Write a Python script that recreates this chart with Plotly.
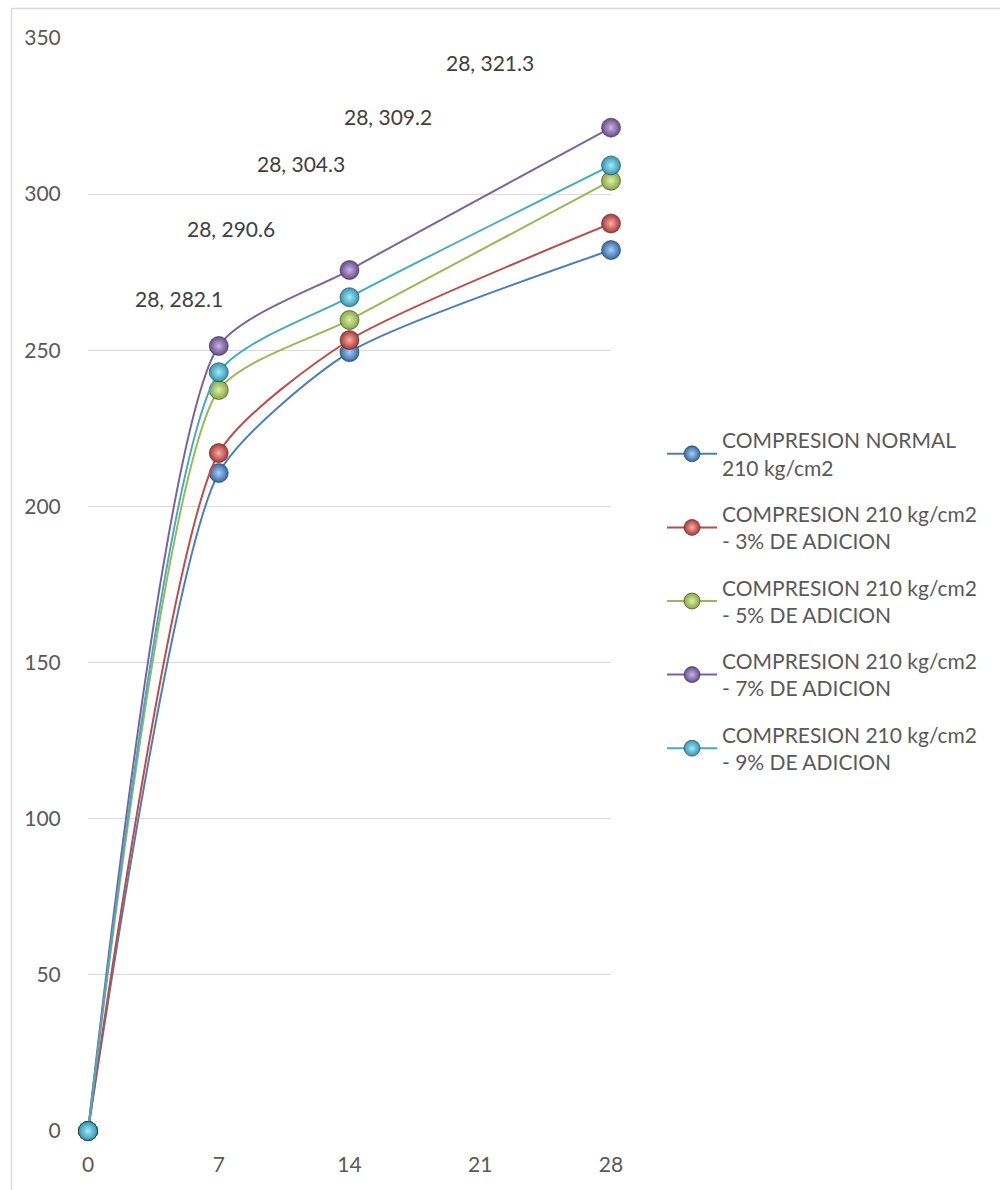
import plotly.graph_objects as go

# Curing age (days) and compressive strength (kg/cm2) per mix
dias = [0, 7, 14, 28]
normal = [0, 210.7, 249.4, 282.1]
adic_3 = [0, 217.1, 253.3, 290.6]
adic_5 = [0, 237.3, 259.7, 304.3]
adic_7 = [0, 251.4, 275.7, 321.3]
adic_9 = [0, 243.0, 267.0, 309.2]

nombres = [
    "COMPRESION NORMAL<br>210 kg/cm2",
    "COMPRESION 210 kg/cm2<br>- 3% DE ADICION",
    "COMPRESION 210 kg/cm2<br>- 5% DE ADICION",
    "COMPRESION 210 kg/cm2<br>- 7% DE ADICION",
    "COMPRESION 210 kg/cm2<br>- 9% DE ADICION",
]
series = [normal, adic_3, adic_5, adic_7, adic_9]
x_ticks = [0, 7, 14, 21, 28]
y_ticks = [0, 50, 100, 150, 200, 250, 300, 350]

# line colour, sphere highlight, sphere body
estilos = [
    ("#4a7ebb", "#a9cdf5", "#3467a8"),
    ("#be4b48", "#f4b0ae", "#ad3431"),
    ("#98b954", "#e0f0ae", "#86a83c"),
    ("#7d60a0", "#c9b4e3", "#664a8c"),
    ("#46aac5", "#a9e8f7", "#2d97b5"),
]

# Data-label positions (x, y in data units) for the 28-day values
label_pos = [(4.87, 266.7), (7.66, 289.1), (11.40, 309.9), (16.06, 325.0), (21.52, 342.3)]
label_order = [normal, adic_3, adic_5, adic_9, adic_7]

FONT = "Lato, 'Open Sans', sans-serif"
GRIS = "#595959"

fig = go.Figure()

for nombre, vals, (lc, hi, body) in zip(nombres, series, estilos):
    fig.add_trace(go.Scatter(
        x=dias, y=vals, name=nombre, legendgroup=nombre,
        mode="lines+markers",
        line=dict(color=lc, width=2, shape="spline", smoothing=0.6),
        marker=dict(size=19, color=body,
                    gradient=dict(type="radial", color=hi),
                    line=dict(color="rgba(40,40,40,0.55)", width=1)),
        cliponaxis=False,
    ))

for (lx, ly), vals in zip(label_pos, label_order):
    fig.add_annotation(x=lx, y=ly, xref="x", yref="y",
                       text=f"{dias[-1]}, {vals[-1]}", showarrow=False,
                       font=dict(family=FONT, size=21, color="#404040"))

# Chart-area border (left and top edges visible)
W, H = 1000, 1190
L, R, T, B = 88, 389, 38, 59
pw, ph = W - L - R, H - T - B
def px_x(p):
    return (p - L) / pw
def px_y(p):
    return (H - B - p) / ph
fig.add_shape(type="rect", xref="paper", yref="paper",
              x0=px_x(11.5), x1=px_x(1010), y0=px_y(8.5), y1=px_y(1200),
              line=dict(color="#d9d9d9", width=1.5), fillcolor="rgba(0,0,0,0)",
              layer="below")

fig.update_layout(
    width=W, height=H,
    margin=dict(l=L, r=R, t=T, b=B, pad=0),
    paper_bgcolor="white", plot_bgcolor="white",
    font=dict(family=FONT, size=21, color=GRIS),
    showlegend=True,
    legend=dict(x=px_x(662), y=px_y(420), xanchor="left", yanchor="top",
                font=dict(family=FONT, size=21, color=GRIS),
                tracegroupgap=16, itemwidth=50, bgcolor="rgba(0,0,0,0)"),
    xaxis=dict(range=[0, 28], tickvals=x_ticks, showgrid=False, zeroline=False,
               showline=False, ticks="outside", ticklen=0, ticklabelstandoff=15,
               tickfont=dict(family=FONT, size=21, color=GRIS)),
    yaxis=dict(range=[0, 350], tickvals=y_ticks, showgrid=True, gridcolor="#d9d9d9",
               gridwidth=1, zeroline=False, showline=False, ticks="outside",
               ticklen=0, ticklabelstandoff=22,
               tickfont=dict(family=FONT, size=21, color=GRIS)),
)

fig.write_html("out.html")
